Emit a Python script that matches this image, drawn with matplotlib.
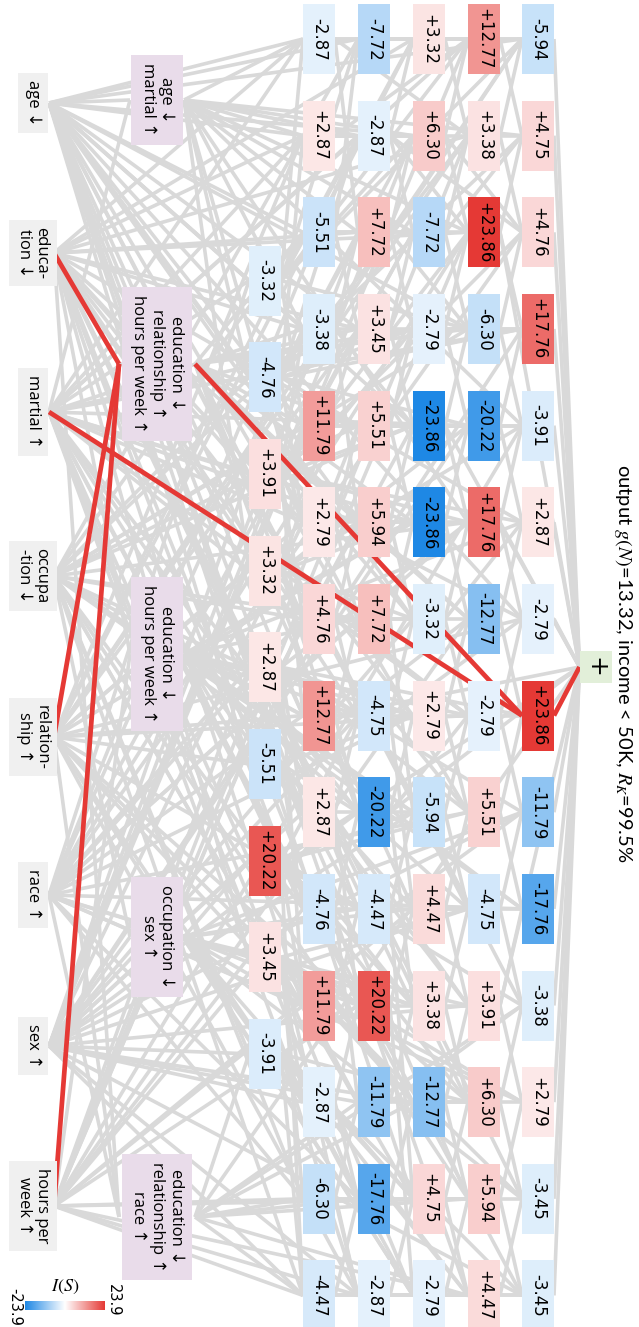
import numpy as np
import matplotlib.pyplot as plt
from matplotlib.patches import Rectangle
from matplotlib.collections import LineCollection
from matplotlib.colors import LinearSegmentedColormap, Normalize

plt.rcParams['mathtext.fontset'] = 'stix'

W, H = 639, 1327

# input features and merged feature groups
features = ['age ↓', 'educa-\ntion ↓', 'martial ↑', 'occupa\n-tion ↓',
            'relation-\nship ↑', 'race ↑', 'sex ↑', 'hours per\nweek ↑']
groups = ['age ↓\nmartial ↑',
          'education ↓\nrelationship ↑\nhours per week ↑',
          'education ↓\nhours per week ↑',
          'occupation ↓\nsex ↑',
          'education ↓\nrelationship ↑\nrace ↑']

# I(S) of the interaction nodes, one list per layer (top to bottom)
layer_a = [-3.32, -4.76, 3.91, 3.32, 2.87, -5.51, 20.22, 3.45, -3.91]
layer_b = [-2.87, 2.87, -5.51, -3.38, 11.79, 2.79, 4.76, 12.77, 2.87, -4.76, 11.79, -2.87, -6.30, -4.47]
layer_c = [-7.72, -2.87, 7.72, 3.45, 5.51, 5.94, 7.72, -4.75, -20.22, -4.47, 20.22, -11.79, -17.76, -2.87]
layer_d = [3.32, 6.30, -7.72, -2.79, -23.86, -23.86, -3.32, 2.79, -5.94, 4.47, 3.38, -12.77, 4.75, -2.79]
layer_e = [12.77, 3.38, 23.86, -6.30, -20.22, 17.76, -12.77, -2.79, 5.51, -4.75, 3.91, 6.30, 5.94, 4.47]
layer_f = [-5.94, 4.75, 4.76, 17.76, -3.91, 2.87, -2.79, 23.86, -11.79, -17.76, -3.38, 2.79, -3.45, -3.45]
vmax = 23.9

# children of every node (x = feature, p = group, a..f = layers)
edges = {
    'p0': 'x0 x2', 'p1': 'x1 x4 x7', 'p2': 'x1 x7', 'p3': 'x3 x6', 'p4': 'x1 x4 x5',
    'a0': 'x0 x2 x5', 'a1': 'x0 x3 p0', 'a2': 'x1 x2 x6 p1', 'a3': 'x2 x4 p0',
    'a4': 'x3 x5 x7', 'a5': 'x0 x4 p2', 'a6': 'x2 x6 p3', 'a7': 'x1 x5 x7', 'a8': 'x3 x6 p4',
    'b0': 'x0 x1 x2 p0 a0', 'b1': 'x0 x1 x2 x4 p0 a1', 'b2': 'x0 x3 x4 p1 a0',
    'b3': 'x0 x1 x2 x5 p0 a1 a2', 'b4': 'x0 x3 x6 p1 a0 a3', 'b5': 'x1 x2 x4 x6 p0 a1 a2',
    'b6': 'x1 x3 x5 x7 p1 a2 a3', 'b7': 'x0 x3 x4 x5 p2 a2 a4', 'b8': 'x0 x2 x6 p2 a4 a5',
    'b9': 'x1 x3 x7 p2 a5 a6', 'b10': 'x1 x4 x5 x7 p3 a4 a6', 'b11': 'x2 x4 x6 p3 a7 a8',
    'b12': 'x3 x5 x7 p4 a7', 'b13': 'x3 x6 x7 p4 a6 a8',
    'c0': 'x0 x3 a0 b0 b2', 'c1': 'x2 x5 p0 a0 a1 b1', 'c2': 'x1 x6 p0 a1 b0 b3',
    'c3': 'x0 x1 x4 p1 a2 a3 b2', 'c4': 'x3 x7 p1 a1 b4 b5', 'c5': 'x0 x2 p1 a3 a4 b3 b6',
    'c6': 'x3 x5 p2 a2 b5 b7', 'c7': 'x1 x6 p2 a4 a6 b6 b8', 'c8': 'x2 x6 p1 a3 a5 b7 b9',
    'c9': 'x0 x4 p3 a5 a6 b10', 'c10': 'x1 x7 p3 a7 a8 b8 b11', 'c11': 'x3 x6 p4 a7 b9 b12',
    'c12': 'x2 x5 p4 a8 b11 b13', 'c13': 'x4 x6 x7 a7 a8 b12',
    'd0': 'x1 x4 a0 b0 c0 c1', 'd1': 'x0 x6 p0 a0 a1 b1 c2', 'd2': 'x5 p0 a2 b2 c1 c3',
    'd3': 'x2 x7 p1 a1 b4 c2 c4', 'd4': 'x0 x3 a2 a4 b3 c3 c5', 'd5': 'x2 x4 p1 p2 a3 b5 c4 c6',
    'd6': 'x0 x6 p1 a3 b6 c5 c7', 'd7': 'x1 x5 p2 a4 a5 b7 c8', 'd8': 'x3 x6 p2 a6 b8 c6 c9',
    'd9': 'x0 x7 p3 a5 c7 c10', 'd10': 'x1 x5 a6 a7 b9 c8 c11', 'd11': 'x2 x6 p4 a7 b10 c12',
    'd12': 'x0 x3 p3 a8 b12 c9 c13', 'd13': 'x2 x4 p3 a8 b13 c10',
    'e0': 'x2 x6 a0 b1 c0 d0 d1', 'e1': 'x1 x4 a1 b0 c3 d0 d2', 'e2': 'x1 x5 x7 p0 a2 b2 c1 d1 d3',
    'e3': 'x0 x3 p1 a0 c2 d2 d4', 'e4': 'x2 x6 a1 a3 b4 c4 d3 d5', 'e5': 'x3 x5 p0 a2 a4 c5 d4 d6',
    'e6': 'x1 x7 p1 a5 c6 d5 d7', 'e7': 'x2 x4 p2 a3 b6 c8 d6 d8', 'e8': 'x0 x5 a4 a6 c7 d7 d9',
    'e9': 'x0 x6 p2 a7 b9 d8 d10', 'e10': 'x2 x6 p3 a5 c10 d9 d11', 'e11': 'x1 x4 a6 a8 c11 d10 d12',
    'e12': 'x3 x7 p4 a5 b12 d11 d13', 'e13': 'x0 x7 p4 a8 b13 c12 d12',
    'f0': 'x0 x4 a0 c2 d0 e0 e1', 'f1': 'x3 p0 b1 d2 e0 e2', 'f2': 'x5 a2 c1 d1 e1 e3',
    'f3': 'x2 x6 a1 b3 d3 e2 e4', 'f4': 'x7 p0 a3 c4 d4 e3 e5', 'f5': 'x1 p2 a2 d6 e4 e6',
    'f6': 'x0 x4 b5 c7 e5 e7', 'f7': 'x2 p1 a4 d7 e6 e8', 'f8': 'x6 p3 a4 c9 e7 e9',
    'f9': 'x3 x5 p2 d9 e8 e10', 'f10': 'x0 p4 a6 c11 e9 e11', 'f11': 'x5 a7 b10 d11 e10 e12',
    'f12': 'x1 x4 p3 d12 e11 e13', 'f13': 'x2 x6 a8 c13 d13 e12',
    'out': 'f0 f1 f2 f3 f4 f5 f6 f7 f8 f9 f10 f11 f12 f13 e2 e5 d4 c8 b7 a6 p4 e10',
}
# the path that carries the output
red_path = [('x1', 'p1'), ('x4', 'p1'), ('x7', 'p1'), ('p1', 'f7'), ('x2', 'f7'), ('f7', 'out')]

# ---- layout (pixels) ----
feature_y = [103, 253, 412, 576, 737, 895, 1046, 1206]
group_y = [100, 364, 654, 937, 1217]
row0, row_step = 39, 96.65
col_x = {'a': 265, 'b': 319, 'c': 374, 'd': 429, 'e': 484, 'f': 538}
box_w, box_h = 32, 70
out_xy = (595.5, 667)

cmap = LinearSegmentedColormap.from_list('inter', ['#1e88e5', '#ffffff', '#e53935'])
norm = Normalize(-vmax, vmax)

layers = {'a': layer_a, 'b': layer_b, 'c': layer_c, 'd': layer_d, 'e': layer_e, 'f': layer_f}

# centre and half width of each node
nodes = {}
for i, lab in enumerate(features):
    nodes[f'x{i}'] = (33, feature_y[i], 16 if '\n' not in lab else 21)
for i, lab in enumerate(groups):
    nodes[f'p{i}'] = (157, group_y[i], 27 if lab.count('\n') == 1 else 38)
for key, vals in layers.items():
    shift = 2.5 if key == 'a' else 0
    for i in range(len(vals)):
        nodes[f'{key}{i}'] = (col_x[key], row0 + (i + shift) * row_step, box_w / 2)
nodes['out'] = (out_xy[0], out_xy[1], 16)


def seg(src, dst):
    sx, sy, sw = nodes[src]
    dx, dy, dw = nodes[dst]
    return [(sx + sw, sy), (dx - dw, dy)]


red_set = set(red_path)
gray = []
for dst, srcs in edges.items():
    for src in srcs.split():
        if (src, dst) not in red_set:
            gray.append(seg(src, dst))

fig = plt.figure(figsize=(W / 100, H / 100), dpi=100)
ax = fig.add_axes([0, 0, 1, 1])

ax.add_collection(LineCollection(gray, colors='#d9d9d9', linewidths=2.6, zorder=1))
ax.add_collection(LineCollection([seg(s, d) for s, d in red_path], colors='#e53935',
                                 linewidths=3.4, zorder=2))

label_font = ['Open Sans', 'DejaVu Sans']
for i, lab in enumerate(features):
    x, y, _ = nodes[f'x{i}']
    ax.text(x, y, lab, rotation=270, ha='center', va='center', fontsize=12,
            family=label_font, linespacing=1.1, zorder=4,
            bbox=dict(boxstyle='square,pad=0.42', fc='#f0f0f0', ec='none'))
for i, lab in enumerate(groups):
    x, y, _ = nodes[f'p{i}']
    ax.text(x, y, lab, rotation=270, ha='center', va='center', fontsize=12,
            family=label_font, linespacing=1.2, multialignment='center', zorder=4,
            bbox=dict(boxstyle='square,pad=0.5', fc='#e9dcea', ec='none'))

for key, vals in layers.items():
    for i, v in enumerate(vals):
        x, y, _ = nodes[f'{key}{i}']
        ax.add_patch(Rectangle((x - box_w / 2, y - box_h / 2), box_w, box_h,
                               fc=cmap(norm(v)), ec='none', zorder=3))
        ax.text(x, y, f'{v:+.2f}', rotation=270, ha='center', va='center',
                fontsize=12, family='DejaVu Sans', zorder=4)

# output node
ox, oy = out_xy
ax.add_patch(Rectangle((ox - 16, oy - 16), 32, 32, fc='#e2efd9', ec='none', zorder=3))
ax.text(ox, oy, '+', rotation=270, ha='center', va='center', fontsize=18, zorder=4)
ax.text(623, 663, r'output $g(N)$=13.32, income < 50K, $R_K$=99.5%', rotation=270,
        ha='center', va='center', fontsize=14.5, family=['Lato', 'DejaVu Sans'])

# colour bar
grad = np.linspace(-vmax, vmax, 256)[None, :]
ax.imshow(grad, extent=(25, 105, 1310, 1301), cmap=cmap, norm=norm, aspect='auto', zorder=3)
ax.text(65, 1287, r'$I(S)$', ha='center', va='center', fontsize=13)
ax.text(15, 1307, f'{-vmax:.1f}', rotation=270, ha='center', va='center', fontsize=10.5)
ax.text(113, 1300, f'{vmax:.1f}', rotation=270, ha='center', va='center', fontsize=10.5)

ax.set_xlim(0, W)
ax.set_ylim(H, 0)
ax.axis('off')
fig.savefig('out.png', dpi=100)
